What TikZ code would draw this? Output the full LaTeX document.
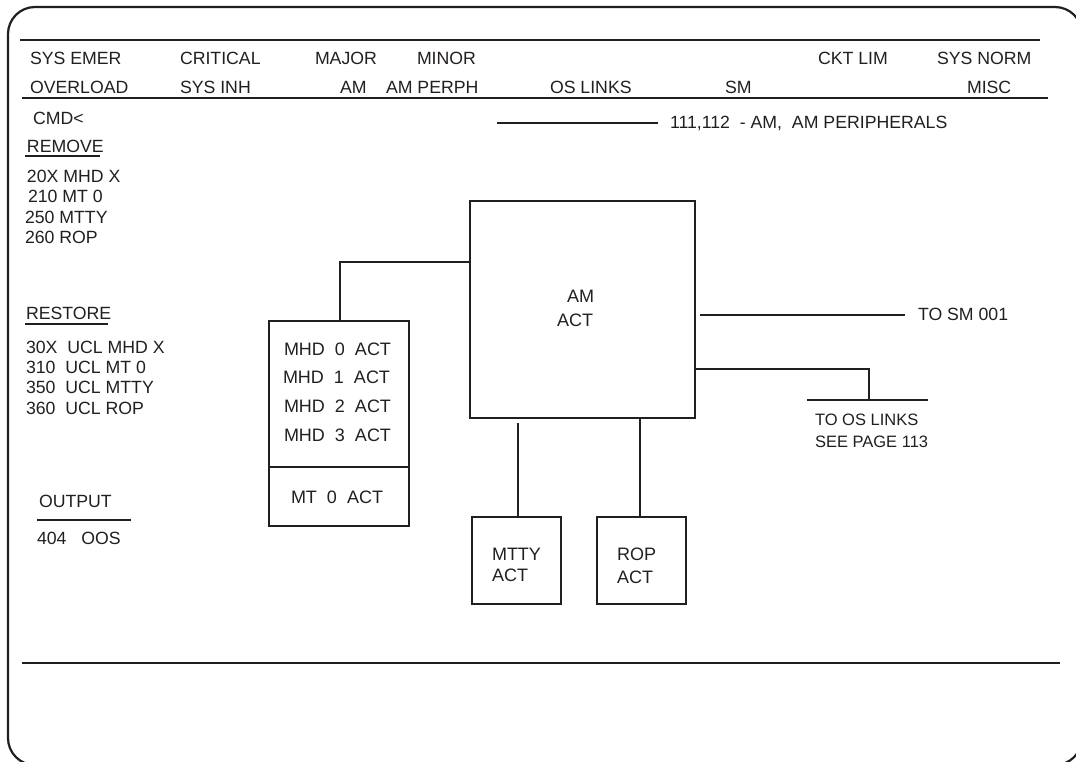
\documentclass[tikz,border=0pt]{standalone}
\usepackage{fontspec}
\setmainfont{Liberation Sans}
\begin{document}
\begin{tikzpicture}[x=1pt,y=-1pt,
  txt/.style={anchor=base west, inner sep=0pt, outer sep=0pt, text=ink, font=\fontsize{17.7}{20}\selectfont},
  btxt/.style={txt, font=\fontsize{18}{21}\selectfont},
  thin/.style={txt, font=\fontsize{16.5}{20}\selectfont},
  boxx/.style={draw=ink, line width=2.4pt, inner sep=0pt, outer sep=0pt, minimum width=#1},
  wire/.style={draw=ink, line width=2.2pt},
  rule/.style={draw=ink, line width=2.2pt}]
\definecolor{ink}{RGB}{35,31,32}
\useasboundingbox (0,0) rectangle (1076,761);
\clip (0,0) rectangle (1076,761);
% frame
\draw[ink, line width=2.2pt, rounded corners=27pt] (8,7) rectangle (1082,765);
% header rules
\draw[ink, line width=1.4pt] (20,40) -- (1040,40);
\draw[rule] (22,98) -- (1048,98);
\draw[rule] (22,663) -- (1060,663);
% header row 1
\node[txt] (h1) at (30,64) {SYS EMER};
\node[txt] (h2) at (180,64) {CRITICAL};
\node[txt] (h3) at (315,64) {MAJOR};
\node[txt] (h4) at (417,64) {MINOR};
\node[txt] (h5) at (818,64) {CKT LIM};
\node[txt] (h6) at (937,64) {SYS NORM};
% header row 2
\node[txt] (r1) at (30,93) {OVERLOAD};
\node[txt] (r2) at (180,93) {SYS INH};
\node[txt] (r3) at (340,93) {AM};
\node[txt] (r4) at (386,93) {AM PERPH};
\node[txt] (r5) at (550,93) {OS LINKS};
\node[txt] (r6) at (725,93) {SM};
\node[txt] (r7) at (967,93) {MISC};
% command area
\node[txt] (cmd) at (33,124) {CMD<};
\coordinate (pl) at (497,123);
\coordinate (pr) at (658,123);
\node[txt] (page) at (670,128) {111,112\ \ - AM,\ \ AM PERIPHERALS};
\draw[wire] (pl) -- (pr);
\node[txt] (rem) at (27,152) {REMOVE};
\draw[rule] (25,156) -- (100,156);
\node[txt] (m1) at (27,182) {20X MHD X};
\node[txt] (m2) at (28,202) {210 MT 0};
\node[txt] (m3) at (25,223) {250 MTTY};
\node[txt] (m4) at (25,243) {260 ROP};
\node[txt] (res) at (26,319) {RESTORE};
\draw[rule] (25,324) -- (108,324);
\node[txt] (s1) at (26,353) {30X\ \ UCL MHD X};
\node[txt] (s2) at (26,373) {310\ \ UCL MT 0};
\node[txt] (s3) at (26,393) {350\ \ UCL MTTY};
\node[txt] (s4) at (26,414) {360\ \ UCL ROP};
\node[txt] (out) at (39,507) {OUTPUT};
\draw[rule] (37,520) -- (131,520);
\node[txt] (oos) at (37,544) {404\ \ \ OOS};
% boxes
\node[boxx=140pt, minimum height=205pt] (mhd) at (339,423.5) {};
\draw[draw=ink, line width=2.4pt] (mhd.west |- 0,467) -- (mhd.east |- 0,467);
\node[btxt] (t0) at (284,355) {MHD\ \ 0\ \ ACT};
\node[btxt] (t1) at (283,383) {MHD\ \ 1\ \ ACT};
\node[btxt] (t2) at (284,412) {MHD\ \ 2\ \ ACT};
\node[btxt] (t3) at (284,441) {MHD\ \ 3\ \ ACT};
\node[btxt] (t4) at (291,503) {MT\ \ 0\ \ ACT};
\node[boxx=225pt, minimum height=217pt] (am) at (582.5,309.5) {};
\node[btxt] (amt) at (567,302) {AM};
\node[btxt] (amt2) at (557,326) {ACT};
\node[boxx=89pt, minimum height=87pt] (mtty) at (516.5,560.5) {};
\node[btxt] (mt1) at (492,560) {MTTY};
\node[btxt] (mt2) at (492,581) {ACT};
\node[boxx=89pt, minimum height=87pt] (rop) at (641.5,560.5) {};
\node[btxt] (rp1) at (617,560) {ROP};
\node[btxt] (rp2) at (617,583) {ACT};
% connectors
\coordinate (j1) at (340,262);
\draw[wire] (j1 |- mhd.north) -- (j1) -- (j1 -| am.west);
\coordinate (j2) at (518,423);
\draw[wire] (j2) -- (j2 |- mtty.north);
\coordinate (j3) at (640,418);
\draw[wire] (j3 |- am.south) -- (j3 |- rop.north);
\node[txt] (tosm) at (918,320) {TO SM 001};
\coordinate (j4) at (700,315);
\coordinate (j4e) at (905,315);
\draw[wire] (j4) -- (j4e);
\coordinate (j5) at (869,369);
\coordinate (j6) at (869,400);
\draw[draw=ink, line width=1.7pt] (j5 -| am.east) -- (j5) -- (j6);
\draw[draw=ink, line width=1.3pt] (807,400) -- (928,400);
\node[thin] (os1) at (815,425) {TO OS LINKS};
\node[thin] (os2) at (815,447) {SEE PAGE 113};
\end{tikzpicture}
\end{document}
